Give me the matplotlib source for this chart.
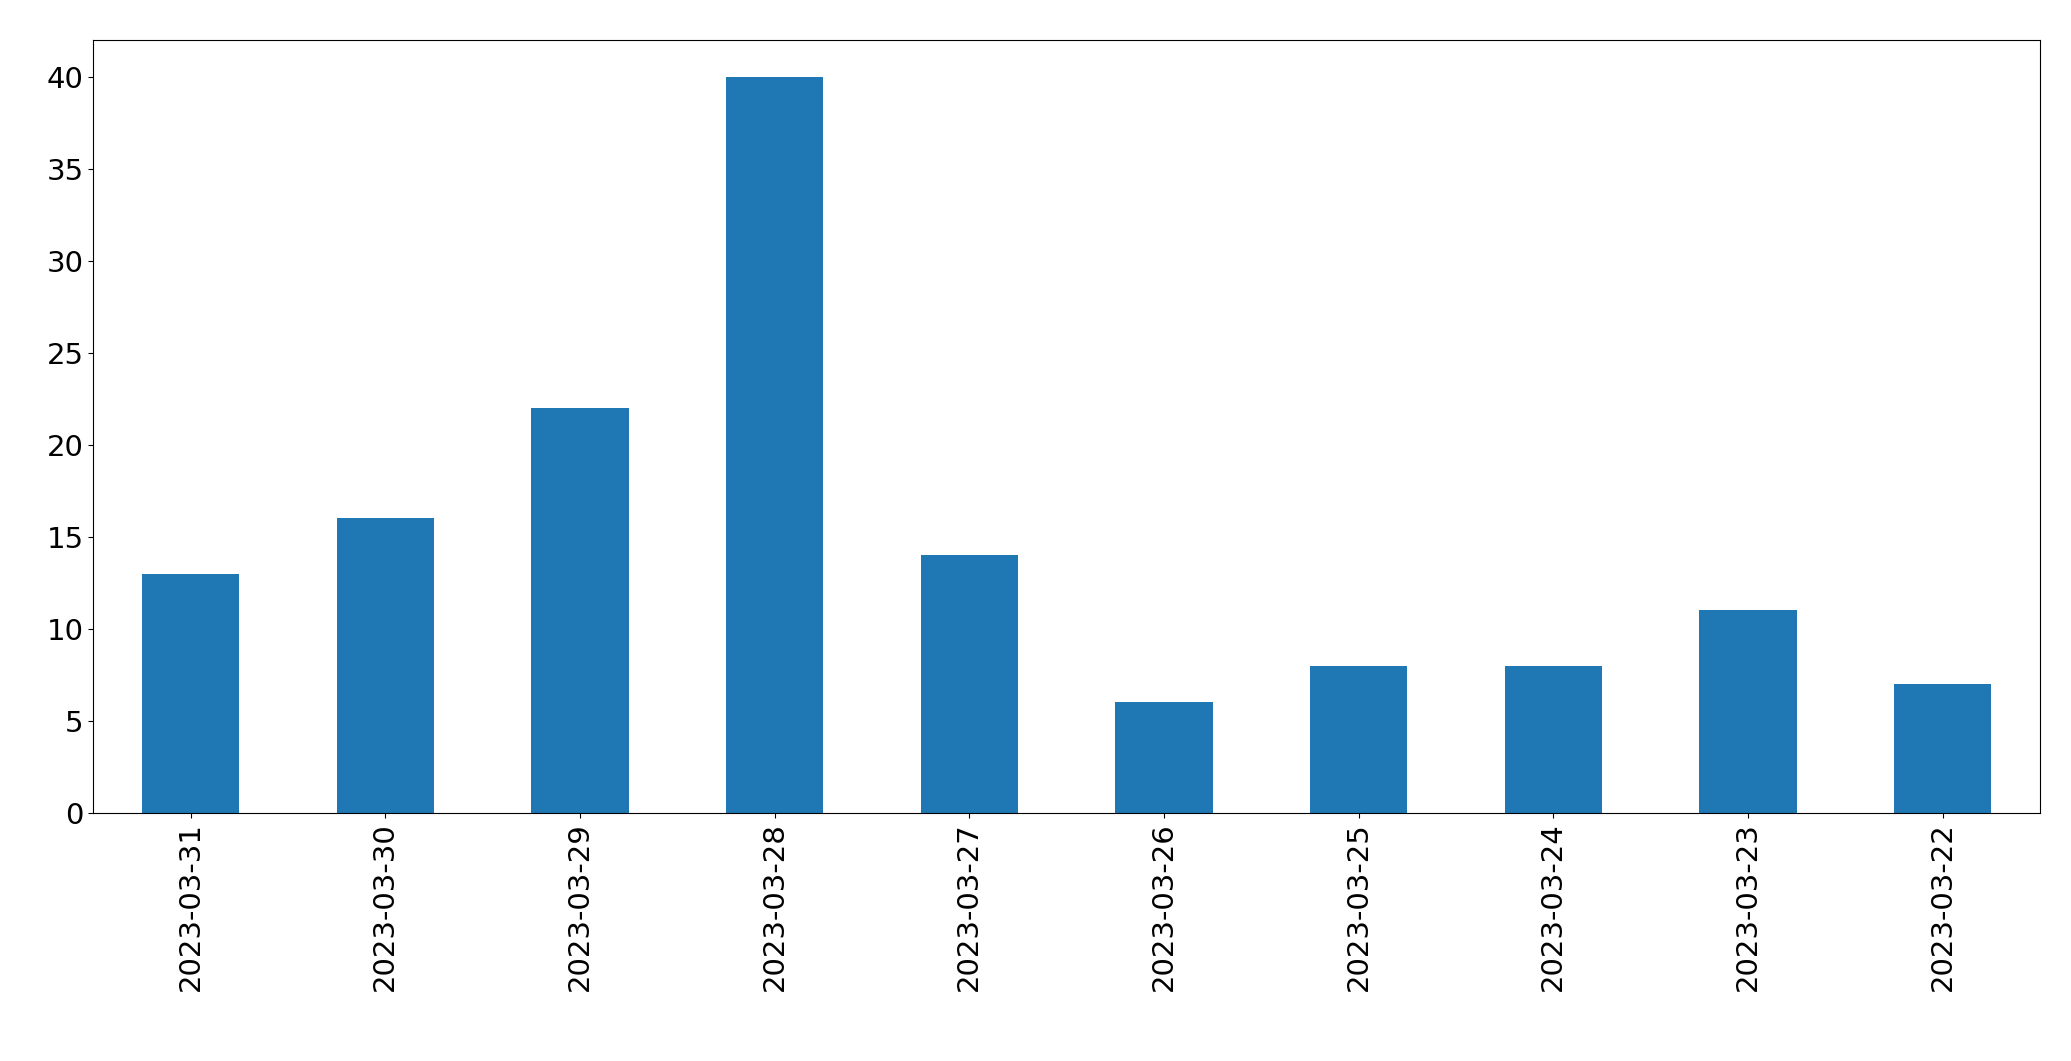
import matplotlib
matplotlib.use("Agg")
import matplotlib.pyplot as plt

dates = ["2023-03-31","2023-03-30","2023-03-29","2023-03-28","2023-03-27",
         "2023-03-26","2023-03-25","2023-03-24","2023-03-23","2023-03-22"]
counts = [13,16,22,40,14,6,8,8,11,7]

fig = plt.figure(figsize=(20.71,10.61), dpi=100)
ax = fig.add_axes([0.045,0.234,0.94,0.728])
x = range(len(dates))
ax.bar(x, counts, width=0.5, color="#1f77b4")
ax.set_xticks(list(x))
ax.set_xticklabels(dates, rotation=90)
ax.set_xlim(-0.5, len(dates)-0.5)
ax.set_ylim(0, 42)
ax.tick_params(labelsize=21)
fig.savefig("out.png", dpi=100)
